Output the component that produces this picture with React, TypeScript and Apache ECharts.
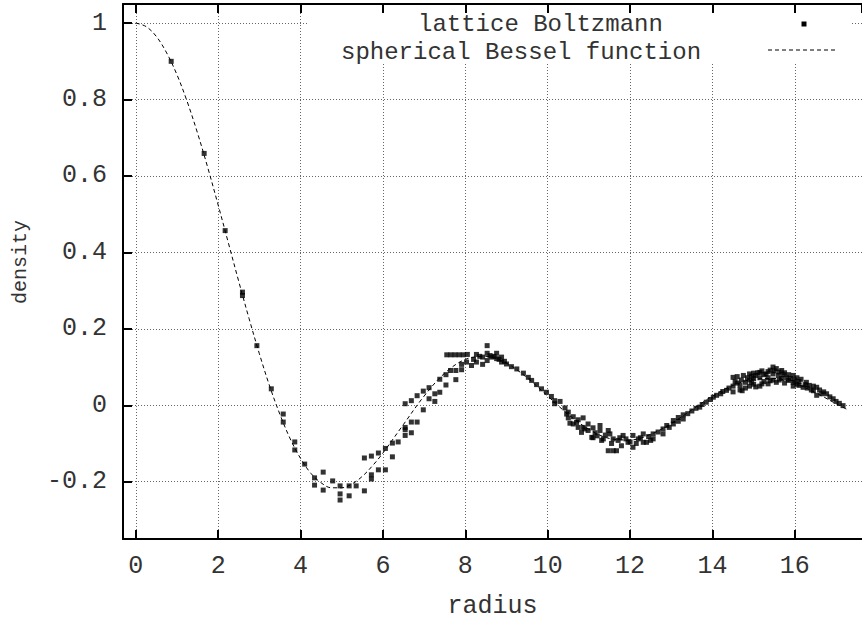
import React, { useEffect, useRef } from "react";
import * as echarts from "echarts";

// spherical Bessel function curve
const besselRadius = [
  0, 0.25, 0.5, 0.75, 1.0, 1.25, 1.5, 1.75, 2.0, 2.25, 2.5, 2.75, 3.0, 3.25, 3.5, 3.75,
  4.0, 4.25, 4.5, 4.75, 5.0, 5.25, 5.5, 5.75, 6.0, 6.5, 7.0, 7.5, 8.0, 8.5, 9.0, 9.5,
  10.0, 10.5, 11.0, 11.5, 12.0, 12.5, 13.0, 13.5, 14.0, 14.5, 15.0, 15.5, 16.0, 16.5, 17.0, 17.25,
];
const besselDensity = [
  1.0, 0.991, 0.965, 0.922, 0.865, 0.794, 0.712, 0.621, 0.524, 0.424, 0.324, 0.227, 0.135, 0.050, -0.024, -0.088,
  -0.139, -0.178, -0.203, -0.216, -0.216, -0.206, -0.186, -0.158, -0.125, -0.050, 0.024, 0.084, 0.120, 0.128, 0.110, 0.072,
  0.024, -0.024, -0.063, -0.087, -0.091, -0.076, -0.048, -0.012, 0.024, 0.052, 0.068, 0.070, 0.057, 0.033, 0.004, -0.010,
];

// lattice Boltzmann points
const lbRadius = [
  0.86, 1.66, 2.17, 2.59, 2.59, 2.94, 3.29, 3.58, 3.58, 3.86, 3.86, 4.10, 4.34, 4.34, 4.55, 4.55,
  4.78, 4.96, 4.96, 4.96, 5.18, 5.18, 5.35, 5.55, 5.55, 5.72, 5.72, 5.72, 5.89, 5.89, 6.06, 6.06,
  6.23, 6.23, 6.37, 6.54, 6.54, 6.54, 6.54, 6.69, 6.69, 6.69, 6.83, 6.83, 6.98, 6.98, 7.12, 7.12,
  7.26, 7.26, 7.38, 7.38, 7.53, 7.53, 7.64, 7.77, 7.77, 7.91, 7.91, 7.55, 7.65, 7.75, 7.85, 7.95,
  8.05, 8.03, 8.15, 8.27, 8.27, 8.42, 8.42, 8.53, 8.53, 8.53, 8.64, 8.76, 8.76, 8.88, 8.88, 9.00,
  9.12, 9.25, 9.41, 9.53, 9.61, 9.73, 9.85, 9.97, 10.09, 10.17, 10.17, 10.30, 10.42, 10.46, 10.50, 10.50,
  10.54, 10.62, 10.62, 10.74, 10.74, 10.82, 10.86, 10.86, 10.98, 10.98, 11.07, 11.10, 11.10, 11.27, 11.27, 11.31,
  11.35, 11.47, 11.47, 11.51, 11.59, 11.59, 11.67, 11.71, 11.79, 11.83, 11.95, 12.07, 12.07, 12.20, 12.32, 12.32,
  12.40, 12.56, 12.56, 12.68, 12.80, 12.80, 12.89, 12.95, 13.05, 13.05, 13.17, 13.17, 13.29, 13.29, 13.40, 13.50,
  13.60, 13.69, 13.75, 13.85, 13.95, 14.02, 14.10, 14.20, 14.25, 14.34, 14.40, 14.50, 14.50, 14.50, 14.60, 14.60,
  14.67, 14.67, 14.75, 14.80, 14.80, 14.90, 14.90, 14.90, 15.00, 15.00, 15.00, 15.10, 15.15, 15.15, 15.15, 15.25,
  15.25, 15.35, 15.35, 15.35, 15.47, 15.47, 15.47, 15.55, 15.55, 15.60, 15.68, 15.68, 15.75, 15.75, 15.85, 15.85,
  15.96, 15.96, 15.96, 16.05, 16.05, 16.15, 16.20, 16.28, 16.35, 16.40, 16.45, 16.53, 16.53, 16.60, 16.65, 16.70,
  16.77, 16.85, 16.93, 17.00, 17.08, 17.17,
  14.55, 14.70, 14.85, 14.95, 15.05, 15.20, 15.30, 15.40, 15.40, 15.50, 15.62, 15.62, 15.72, 15.80, 15.90, 16.00,
  16.10, 16.10, 16.25, 16.30, 16.45, 15.05, 15.20, 14.95, 14.72,
  10.70, 10.90, 11.15, 11.20, 11.40, 11.55, 11.75, 11.90, 12.00, 12.15, 12.25, 12.45, 12.50,
  8.20, 8.35, 8.60, 8.70, 8.82, 8.95,
];
const lbDensity = [
  0.900, 0.659, 0.457, 0.296, 0.287, 0.156, 0.043, -0.023, -0.044, -0.096, -0.117, -0.154, -0.190, -0.209, -0.175, -0.222,
  -0.198, -0.211, -0.232, -0.248, -0.211, -0.237, -0.211, -0.138, -0.224, -0.133, -0.182, -0.193, -0.125, -0.169, -0.113, -0.169,
  -0.099, -0.135, -0.096, 0.004, -0.058, -0.064, -0.079, 0.012, -0.044, -0.072, 0.025, -0.044, 0.037, -0.012, 0.046, 0.017,
  0.030, 0.010, 0.068, 0.034, 0.080, 0.053, 0.091, 0.091, 0.067, 0.107, 0.093, 0.132, 0.132, 0.132, 0.132, 0.132,
  0.133, 0.113, 0.104, 0.133, 0.113, 0.126, 0.107, 0.156, 0.136, 0.117, 0.126, 0.136, 0.122, 0.126, 0.113, 0.108,
  0.101, 0.095, 0.084, 0.073, 0.065, 0.054, 0.043, 0.034, 0.023, 0.012, 0.004, 0.010, -0.007, -0.023, -0.018, -0.033,
  -0.047, -0.030, -0.049, -0.038, -0.058, -0.071, -0.033, -0.058, -0.049, -0.066, -0.084, -0.059, -0.085, -0.053, -0.066, -0.092,
  -0.088, -0.066, -0.119, -0.075, -0.088, -0.119, -0.119, -0.092, -0.106, -0.079, -0.097, -0.079, -0.110, -0.088, -0.075, -0.097,
  -0.097, -0.088, -0.075, -0.070, -0.075, -0.062, -0.053, -0.058, -0.049, -0.040, -0.042, -0.032, -0.036, -0.025, -0.022, -0.015,
  -0.008, -0.005, 0.002, 0.008, 0.015, 0.021, 0.026, 0.030, 0.036, 0.039, 0.045, 0.073, 0.050, 0.035, 0.075, 0.058,
  0.052, 0.040, 0.078, 0.060, 0.045, 0.082, 0.066, 0.050, 0.084, 0.070, 0.055, 0.085, 0.086, 0.072, 0.050, 0.080,
  0.062, 0.088, 0.072, 0.056, 0.100, 0.082, 0.066, 0.096, 0.060, 0.078, 0.091, 0.070, 0.085, 0.058, 0.080, 0.065,
  0.078, 0.060, 0.050, 0.072, 0.055, 0.068, 0.047, 0.060, 0.052, 0.040, 0.050, 0.047, 0.026, 0.040, 0.030, 0.035,
  0.030, 0.022, 0.017, 0.010, 0.005, -0.001,
  0.062, 0.066, 0.072, 0.076, 0.078, 0.090, 0.082, 0.092, 0.064, 0.090, 0.087, 0.066, 0.080, 0.072, 0.070, 0.066,
  0.062, 0.052, 0.054, 0.045, 0.038, 0.048, 0.056, 0.060, 0.038,
  -0.045, -0.062, -0.072, -0.080, -0.078, -0.100, -0.085, -0.088, -0.096, -0.100, -0.085, -0.082, -0.092,
  0.120, 0.128, 0.130, 0.128, 0.120, 0.115,
];

const seriesNames = ["lattice Boltzmann", "spherical Bessel function"];
const xTitle = "radius";
const yTitle = "density";

const X_MIN = -0.31;
const X_MAX = 17.63;
const Y_MIN = -0.35;
const Y_MAX = 1.05;

const FONT = "'Liberation Mono', 'DejaVu Sans Mono', monospace";
const TEXT_COLOR = "#333";

export default function App() {
  const ref = useRef<HTMLDivElement>(null);

  useEffect(() => {
    if (!ref.current) return;
    const chart = echarts.init(ref.current, undefined, { renderer: "svg" });

    const gridLine = { show: true, lineStyle: { color: "#666", width: 1, type: [1, 2] as any } };
    const axisLine = { show: true, onZero: false, lineStyle: { color: "#000", width: 2 } };
    const axisTick = { show: true, inside: true, length: 9, lineStyle: { color: "#000", width: 2 } };
    const labelStyle = { fontFamily: FONT, fontSize: 25, color: TEXT_COLOR };

    chart.setOption({
      animation: false,
      backgroundColor: "#fff",
      grid: {
        left: 123,
        top: 4,
        right: 0,
        bottom: 81,
        containLabel: false,
        outerBoundsMode: "none",
      },
      xAxis: [
        {
          type: "value",
          position: "bottom",
          min: X_MIN,
          max: X_MAX,
          splitNumber: 9,
          minInterval: 2,
          maxInterval: 2,
          axisLine,
          axisTick,
          splitLine: gridLine,
          axisLabel: {
            ...labelStyle,
            margin: 15,
            showMinLabel: false,
            showMaxLabel: false,
          },
          name: xTitle,
          nameLocation: "middle",
          nameGap: 55,
          nameTextStyle: { ...labelStyle, lineHeight: 24 },
          z: 0,
        },
        {
          type: "value",
          position: "top",
          min: X_MIN,
          max: X_MAX,
          splitNumber: 9,
          minInterval: 2,
          maxInterval: 2,
          axisLine,
          axisTick,
          splitLine: { show: false },
          axisLabel: { show: false },
          z: 5,
        },
      ],
      yAxis: [
        {
          type: "value",
          position: "left",
          min: Y_MIN,
          max: Y_MAX,
          splitNumber: 7,
          minInterval: 0.2,
          maxInterval: 0.2,
          axisLine,
          axisTick,
          splitLine: gridLine,
          axisLabel: {
            ...labelStyle,
            margin: 16,
            showMinLabel: false,
            showMaxLabel: false,
          },
          z: 0,
        },
      ],
      legend: { show: false },
      series: [
        {
          name: seriesNames[0],
          type: "scatter",
          xAxisIndex: 0,
          yAxisIndex: 0,
          symbol: "rect",
          symbolSize: 5,
          itemStyle: { color: "#000" },
          data: lbRadius.map((r, i) => [r, lbDensity[i]]),
          z: 3,
        },
        {
          name: seriesNames[1],
          type: "line",
          xAxisIndex: 0,
          yAxisIndex: 0,
          showSymbol: false,
          smooth: 0.35,
          lineStyle: { color: "#000", width: 1, type: [4, 3] },
          data: besselRadius.map((r, i) => [r, besselDensity[i]]),
          z: 2,
        },
      ],
      graphic: [
        {
          type: "rect",
          z: 1,
          shape: { x: 309, y: 5, width: 542, height: 58 },
          style: { fill: "#fff" },
          silent: true,
        },
        {
          type: "text",
          z: 6,
          x: 418,
          y: 24,
          style: {
            text: seriesNames[0],
            font: `24px ${FONT}`,
            lineHeight: 24,
            fill: TEXT_COLOR,
            textAlign: "left",
            textVerticalAlign: "middle",
          },
        },
        {
          type: "rect",
          z: 6,
          shape: { x: 801.5, y: 21.5, width: 5, height: 5 },
          style: { fill: "#000" },
        },
        {
          type: "text",
          z: 6,
          x: 341,
          y: 52,
          style: {
            text: seriesNames[1],
            font: `24px ${FONT}`,
            lineHeight: 24,
            fill: TEXT_COLOR,
            textAlign: "left",
            textVerticalAlign: "middle",
          },
        },
        {
          type: "line",
          z: 6,
          shape: { x1: 768, y1: 50, x2: 838, y2: 50 },
          style: { stroke: "#000", lineWidth: 1, lineDash: [4, 3] },
        },
        {
          type: "text",
          z: 6,
          x: 20,
          y: 262,
          rotation: Math.PI / 2,
          style: {
            text: yTitle,
            font: `20px ${FONT}`,
            fill: TEXT_COLOR,
            textAlign: "center",
            textVerticalAlign: "middle",
          },
        },
      ],
    });

    return () => chart.dispose();
  }, []);

  return (
    <div
      ref={ref}
      style={{ position: "absolute", left: 0, top: 0, width: 862, height: 620 }}
    />
  );
}
